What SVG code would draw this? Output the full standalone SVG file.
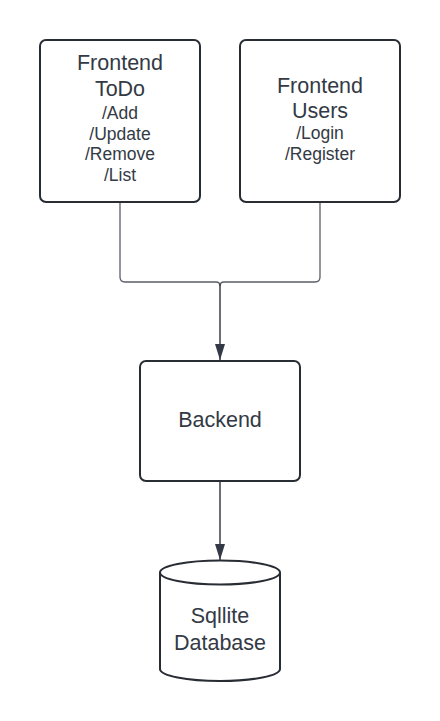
<svg xmlns="http://www.w3.org/2000/svg" width="440" height="721" viewBox="0 0 440 721">
<style>
.box{fill:#fff;stroke:#282c33;stroke-width:2}
.big{font-family:"Liberation Sans",Arial,sans-serif;font-size:21.5px;fill:#333a45;text-anchor:middle}
.small{font-family:"Liberation Sans",Arial,sans-serif;font-size:17.5px;fill:#333a45;text-anchor:middle}
.conn{fill:none;stroke:#5a5e66;stroke-width:1.3}
.arr{fill:none;stroke:#3a3f47;stroke-width:1.5;marker-end:url(#ah)}
</style>
<defs>
<marker id="ah" viewBox="0 0 16 10" refX="16" refY="5" markerWidth="16" markerHeight="10" markerUnits="userSpaceOnUse" orient="auto">
<path d="M0,0 L16,5 L0,10 Z" fill="#333a45"/>
</marker>
</defs>
<rect width="440" height="721" fill="#fff"/>
<g id="connectors">
<path class="conn" d="M120,202 V277 Q120,282 125,282 H216 Q220,282 220,286"/>
<path class="conn" d="M320,202 V277 Q320,282 315,282 H224 Q220,282 220,286"/>
<line class="arr" x1="220" y1="284" x2="220" y2="360"/>
<line class="arr" x1="220" y1="482" x2="220" y2="560"/>
</g>
<g id="frontend-todo">
<rect class="box" x="40" y="40" width="160" height="162" rx="6"/>
<text class="big" x="120" y="70">Frontend</text>
<text class="big" x="120" y="96">ToDo</text>
<text class="small" x="120" y="119">/Add</text>
<text class="small" x="120" y="140">/Update</text>
<text class="small" x="120" y="160">/Remove</text>
<text class="small" x="120" y="181">/List</text>
</g>
<g id="frontend-users">
<rect class="box" x="240" y="40" width="160" height="162" rx="6"/>
<text class="big" x="320" y="93">Frontend</text>
<text class="big" x="320" y="118">Users</text>
<text class="small" x="320" y="139">/Login</text>
<text class="small" x="320" y="160">/Register</text>
</g>
<g id="backend">
<rect class="box" x="140" y="361" width="160" height="120" rx="6"/>
<text class="big" x="220" y="427">Backend</text>
</g>
<g id="database">
<path class="box" d="M160,572.5 V669 A60,12 0 0 0 280,669 V572.5"/>
<ellipse class="box" cx="220" cy="572.5" rx="60" ry="12"/>
<text class="big" x="220" y="623">Sqllite</text>
<text class="big" x="220" y="650">Database</text>
</g>
</svg>
